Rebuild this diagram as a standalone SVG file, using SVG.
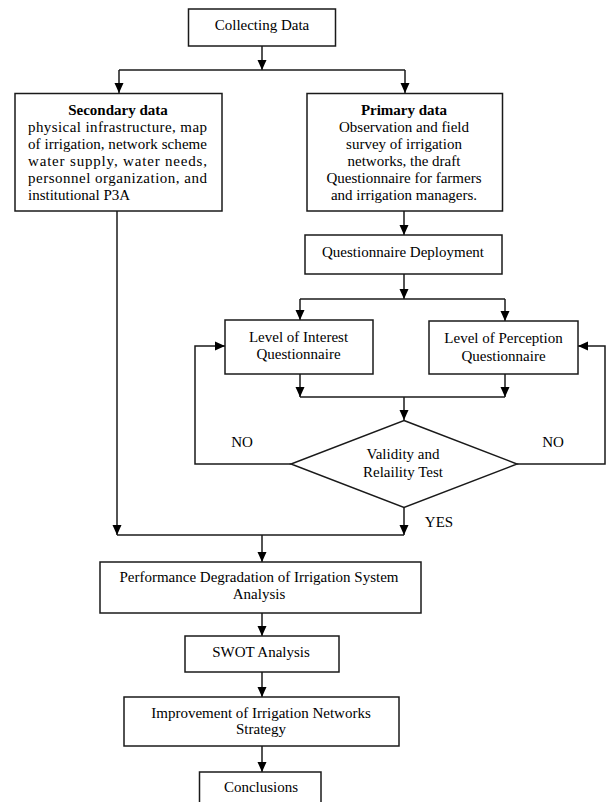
<svg xmlns="http://www.w3.org/2000/svg" width="607" height="802" viewBox="0 0 607 802">
<style>
.box{fill:#fff;stroke:#1a1a1a;stroke-width:1.5}
.ln{fill:none;stroke:#1a1a1a;stroke-width:1.5}
.ar{fill:none;stroke:#1a1a1a;stroke-width:1.5;marker-end:url(#ah)}
text{font-family:"Liberation Serif","Times New Roman",serif;font-size:15px;fill:#000}
.c{text-anchor:middle}
.b{font-weight:bold}
</style>
<defs>
<marker id="ah" markerUnits="userSpaceOnUse" markerWidth="10" markerHeight="10" viewBox="0 0 10 10" refX="10" refY="5" orient="auto">
<path d="M0,0.5 L10,5 L0,9.5 Z" fill="#000"/>
</marker>
</defs>
<rect width="607" height="802" fill="#fff"/>
<g id="connectors">
<path class="ln" d="M262 46 V62"/>
<path class="ar" d="M262 60 V70"/>
<path class="ln" d="M119 70 H405"/>
<path class="ar" d="M119 70 V93"/>
<path class="ar" d="M405 70 V93"/>
<path class="ar" d="M404 211 V235"/>
<path class="ar" d="M404 274 V299"/>
<path class="ln" d="M300 299 H505"/>
<path class="ar" d="M300 299 V320"/>
<path class="ar" d="M505 299 V321"/>
<path class="ar" d="M300 374 V397"/>
<path class="ar" d="M505 374 V397"/>
<path class="ln" d="M300 397 H505"/>
<path class="ar" d="M404 397 V420"/>
<path class="ar" d="M291 464 H195 V346 H225"/>
<path class="ar" d="M517 464 H605 V346 H578"/>
<path class="ar" d="M404 507 V535"/>
<path class="ar" d="M117 211 V535"/>
<path class="ln" d="M117 535 H404"/>
<path class="ar" d="M262 535 V562"/>
<path class="ar" d="M262 613 V636"/>
<path class="ar" d="M262 672 V697"/>
<path class="ar" d="M262 746 V772"/>
</g>
<g id="collecting">
<rect class="box" x="188.5" y="9" width="147" height="37"/>
<text class="c" x="262" y="30">Collecting Data</text>
</g>
<g id="secondary">
<rect class="box" x="15" y="93.5" width="207" height="117.5"/>
<text class="c b" x="118" y="115">Secondary data</text>
<text x="28" y="132" textLength="179" lengthAdjust="spacing">physical infrastructure, map</text>
<text x="28" y="149" textLength="179" lengthAdjust="spacing">of irrigation, network scheme</text>
<text x="28" y="166" textLength="179" lengthAdjust="spacing">water supply, water needs,</text>
<text x="28" y="183" textLength="179" lengthAdjust="spacing">personnel organization, and</text>
<text x="28" y="200">institutional P3A</text>
</g>
<g id="primary">
<rect class="box" x="307" y="93.5" width="195.5" height="117.5"/>
<text class="c b" x="404" y="115">Primary data</text>
<text class="c" x="404" y="132">Observation and field</text>
<text class="c" x="404" y="149">survey of irrigation</text>
<text class="c" x="404" y="166">networks, the draft</text>
<text class="c" x="404" y="183">Questionnaire for farmers</text>
<text class="c" x="404" y="200">and irrigation managers.</text>
</g>
<g id="deployment">
<rect class="box" x="305" y="235" width="197" height="39"/>
<text class="c" x="403" y="257">Questionnaire Deployment</text>
</g>
<g id="interest">
<rect class="box" x="225" y="320" width="148" height="54"/>
<text class="c" x="298.5" y="342">Level of Interest</text>
<text class="c" x="298.5" y="359">Questionnaire</text>
</g>
<g id="perception">
<rect class="box" x="429" y="321" width="149" height="53"/>
<text class="c" x="503.5" y="343">Level of Perception</text>
<text class="c" x="503.5" y="361">Questionnaire</text>
</g>
<g id="validity">
<polygon class="box" points="404,420.5 517,464 404,507.5 291,464"/>
<text class="c" x="403" y="459">Validity and</text>
<text class="c" x="403" y="477">Relaility Test</text>
</g>
<g id="labels">
<text class="c" x="242" y="447">NO</text>
<text class="c" x="553" y="447">NO</text>
<text class="c" x="439" y="527">YES</text>
</g>
<g id="performance">
<rect class="box" x="100" y="562" width="321" height="51"/>
<text class="c" x="259" y="582">Performance Degradation of Irrigation System</text>
<text class="c" x="259" y="599">Analysis</text>
</g>
<g id="swot">
<rect class="box" x="185" y="636" width="154" height="36"/>
<text class="c" x="261" y="657">SWOT Analysis</text>
</g>
<g id="improvement">
<rect class="box" x="124" y="697" width="275" height="49"/>
<text class="c" x="261" y="718">Improvement of Irrigation Networks</text>
<text class="c" x="261" y="734">Strategy</text>
</g>
<g id="conclusions">
<rect class="box" x="199.5" y="772" width="121.5" height="40"/>
<text class="c" x="261" y="792">Conclusions</text>
</g>
</svg>
